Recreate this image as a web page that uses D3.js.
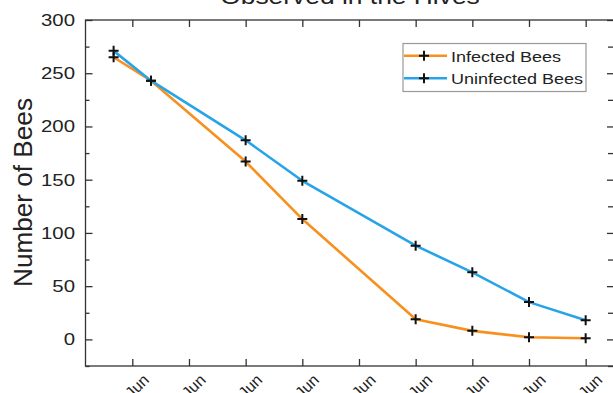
<!DOCTYPE html>
<html>
<head>
<meta charset="utf-8">
<script src="https://cdn.jsdelivr.net/npm/d3@7"></script>
<style>
  body { margin: 0; background: #fff; }
  svg { display: block; }
</style>
</head>
<body>
<div id="chart"></div>
<script>
// ---- data ----
var tickPos     = [0, 1, 2, 3, 4, 5, 6, 7, 8];
var tickLabels  = ["Jun", "Jun", "Jun", "Jun", "Jun", "Jun", "Jun", "Jun", "Jun"];
var sampleX     = [-0.33, 0.33, 2, 3, 5, 6, 7, 8];
var infected    = [265, 243, 167, 113, 19, 8, 2, 1];
var uninfected  = [271, 243, 187, 149, 88, 63, 35, 18];
var yMajor      = [0, 50, 100, 150, 200, 250, 300];
var yMinor      = [-25, 25, 75, 125, 175, 225, 275];
var seriesNames = ["Infected Bees", "Uninfected Bees"];

//configuration
var config = {};
config.width   = 613;
config.height  = 393;
config.left    = 85.5;
config.right   = 614;
config.top     = 20;
config.bottom  = 366;
config.font    = "'Liberation Sans', Arial, sans-serif";
config.axis    = "#333";
config.colors  = ["#f7901e", "#27a4e8"];

var svg = d3.select("#chart").append("svg")
    .attr("width", config.width)
    .attr("height", config.height);

var x = d3.scaleLinear().domain([-0.826, 8.5]).range([config.left, config.right]);
var y = d3.scaleLinear().domain([-25, 300]).range([config.bottom, config.top]);

//ticks, all pointing inward
function ticks(axis, tr){
    var g = svg.append("g").attr("transform", tr).call(axis);
    g.select(".domain").remove();
    g.selectAll("line").attr("stroke", config.axis).attr("stroke-width", 1.3);
    return g;
}
ticks(d3.axisLeft(y).tickValues(yMajor).tickSize(-7).tickFormat(""), "translate(" + config.left + ",0)");
ticks(d3.axisLeft(y).tickValues(yMinor).tickSize(-4).tickFormat(""), "translate(" + config.left + ",0)");
ticks(d3.axisRight(y).tickValues(yMajor).tickSize(-7).tickFormat(""), "translate(" + config.right + ",0)");
ticks(d3.axisRight(y).tickValues(yMinor).tickSize(-6).tickFormat(""), "translate(" + config.right + ",0)");
ticks(d3.axisBottom(x).tickValues(tickPos).tickSize(-7).tickFormat(""), "translate(0," + config.bottom + ")");
ticks(d3.axisTop(x).tickValues(tickPos).tickSize(-7).tickFormat(""), "translate(0," + config.top + ")");

//frame
svg.append("rect")
    .attr("x", config.left).attr("y", config.top)
    .attr("width", config.right - config.left)
    .attr("height", config.bottom - config.top)
    .attr("fill", "none")
    .attr("stroke", config.axis)
    .attr("stroke-width", 1.3);

//y tick labels
svg.selectAll("text.ylab")
    .data(yMajor)
    .enter().append("text")
    .attr("class", "ylab")
    .attr("transform", function(d){ return "translate(75," + (y(d) + 6) + ") scale(1.2,1)"; })
    .attr("text-anchor", "end")
    .style("font-family", config.font)
    .style("font-size", "17px")
    .attr("fill", "#222")
    .text(function(d){ return d; });

//x tick labels (rotated, cut at the bottom like the original)
svg.selectAll("text.xlab")
    .data(tickPos)
    .enter().append("text")
    .attr("class", "xlab")
    .attr("transform", function(d){ return "translate(" + (x(d) + 17.7) + ",381) rotate(-45)"; })
    .attr("text-anchor", "end")
    .style("font-family", config.font)
    .style("font-size", "16px")
    .attr("fill", "#222")
    .text(function(d, i){ return tickLabels[i]; });

//axis title
svg.append("text")
    .attr("transform", "translate(32,192.5) rotate(-90)")
    .attr("text-anchor", "middle")
    .attr("textLength", 189)
    .attr("lengthAdjust", "spacingAndGlyphs")
    .style("font-family", config.font)
    .style("font-size", "26px")
    .attr("fill", "#222")
    .text("Number of Bees");

//chart title (cut at the top)
svg.append("text")
    .attr("transform", "translate(350,4) scale(1.2,1)")
    .attr("text-anchor", "middle")
    .style("font-family", config.font)
    .style("font-size", "22px")
    .attr("fill", "#222")
    .text("Observed in the Hives");

//lines and markers
var line = d3.line()
    .x(function(d, i){ return x(sampleX[i]); })
    .y(function(d){ return y(d); });

function plus(g, cx, cy){
    g.append("path")
        .attr("d", "M" + (cx - 5) + "," + cy + "H" + (cx + 5) + "M" + cx + "," + (cy - 5) + "V" + (cy + 5))
        .attr("stroke", "#111")
        .attr("stroke-width", 2)
        .attr("fill", "none");
}

[infected, uninfected].forEach(function(series, k){
    svg.append("path")
        .datum(series)
        .attr("d", line)
        .attr("fill", "none")
        .attr("stroke", config.colors[k])
        .attr("stroke-width", 2.6)
        .attr("stroke-linejoin", "round");
});
[infected, uninfected].forEach(function(series){
    var g = svg.append("g");
    series.forEach(function(d, i){ plus(g, x(sampleX[i]), y(d)); });
});

//legend
var legend = svg.append("g").attr("class", "legend");
legend.append("rect")
    .attr("x", 403).attr("y", 43.5)
    .attr("width", 183).attr("height", 48)
    .attr("fill", "#fff")
    .attr("stroke", "#999")
    .attr("stroke-width", 1.2);
seriesNames.forEach(function(name, i){
    var ly = 55.7 + i * 22.6;
    legend.append("line")
        .attr("x1", 404).attr("x2", 447)
        .attr("y1", ly).attr("y2", ly)
        .attr("stroke", config.colors[i])
        .attr("stroke-width", 2.6);
    plus(legend, 424, ly);
    legend.append("text")
        .attr("transform", "translate(451," + (ly + 5.8) + ") scale(1.2,1)")
        .style("font-family", config.font)
        .style("font-size", "15px")
        .attr("fill", "#222")
        .text(name);
});
</script>
</body>
</html>
